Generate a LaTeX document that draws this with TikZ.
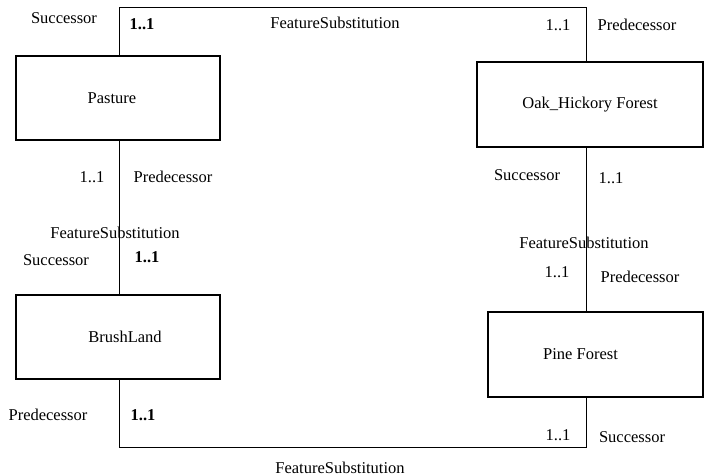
\documentclass[tikz,border=0pt]{standalone}
\usepackage{fontspec}
\setmainfont{Liberation Serif}
\begin{document}
\begin{tikzpicture}[x=1pt,y=-1pt,
  every node/.style={font=\fontsize{16.5}{18}\selectfont, inner sep=0pt},
  classbox/.style={draw, line width=2pt, rectangle},
  assoc/.style={line width=1pt},
  bold/.style={font=\fontsize{16.5}{18}\selectfont\bfseries}]
  \useasboundingbox (0,0) rectangle (705,476);

  % classes (names set a little off-centre inside their boxes)
  \node[classbox, minimum width=204pt, minimum height=84pt] (pasture) at (118,98) {\hspace*{-12pt}Pasture};
  \node[classbox, minimum width=226pt, minimum height=85pt] (oak) at (590,104.5) {Oak\_Hickory Forest};
  \node[classbox, minimum width=204pt, minimum height=84pt] (brush) at (118,337) {\hspace*{14pt}\raisebox{-5pt}{BrushLand}};
  \node[classbox, minimum width=215pt, minimum height=85pt] (pine) at (595.5,354.5) {\hspace*{-30pt}Pine Forest};

  % bend points of the two outer associations
  \coordinate (topL) at (119,8);
  \coordinate (topR) at (586,8);
  \coordinate (botL) at (119,447);
  \coordinate (botR) at (586,447);

  % associations
  \draw[assoc] (pasture.north -| topL) -- (topL) -- (topR) -- (oak.north -| topR);
  \draw[assoc] (pasture.south -| topL) -- (brush.north -| topL);
  \draw[assoc] (oak.south -| topR) -- (pine.north -| topR);
  \draw[assoc] (brush.south -| botL) -- (botL) -- (botR) -- (pine.south -| botR);

  % top association labels
  \node (t1) at (64,18) {Successor};
  \node[bold] (t2) at (142,24) {1..1};
  \node (t3) at (335,23) {FeatureSubstitution};
  \node (t4) at (558,25) {1..1};
  \node (t5) at (637,25) {Predecessor};

  % left association labels
  \node (l1) at (92,177) {1..1};
  \node (l2) at (173,177) {Predecessor};
  \node (l3) at (115,233) {FeatureSubstitution};
  \node (l4) at (56,260) {Successor};
  \node[bold] (l5) at (147,257) {1..1};

  % right association labels
  \node (r1) at (527,175) {Successor};
  \node (r2) at (611,178) {1..1};
  \node (r3) at (584,243) {FeatureSubstitution};
  \node (r4) at (557,272) {1..1};
  \node (r5) at (640,277) {Predecessor};

  % bottom association labels
  \node (b1) at (48,415) {Predecessor};
  \node[bold] (b2) at (143,415) {1..1};
  \node (b3) at (558,435) {1..1};
  \node (b4) at (632,437) {Successor};
  \node (b5) at (340,468) {FeatureSubstitution};
\end{tikzpicture}
\end{document}
